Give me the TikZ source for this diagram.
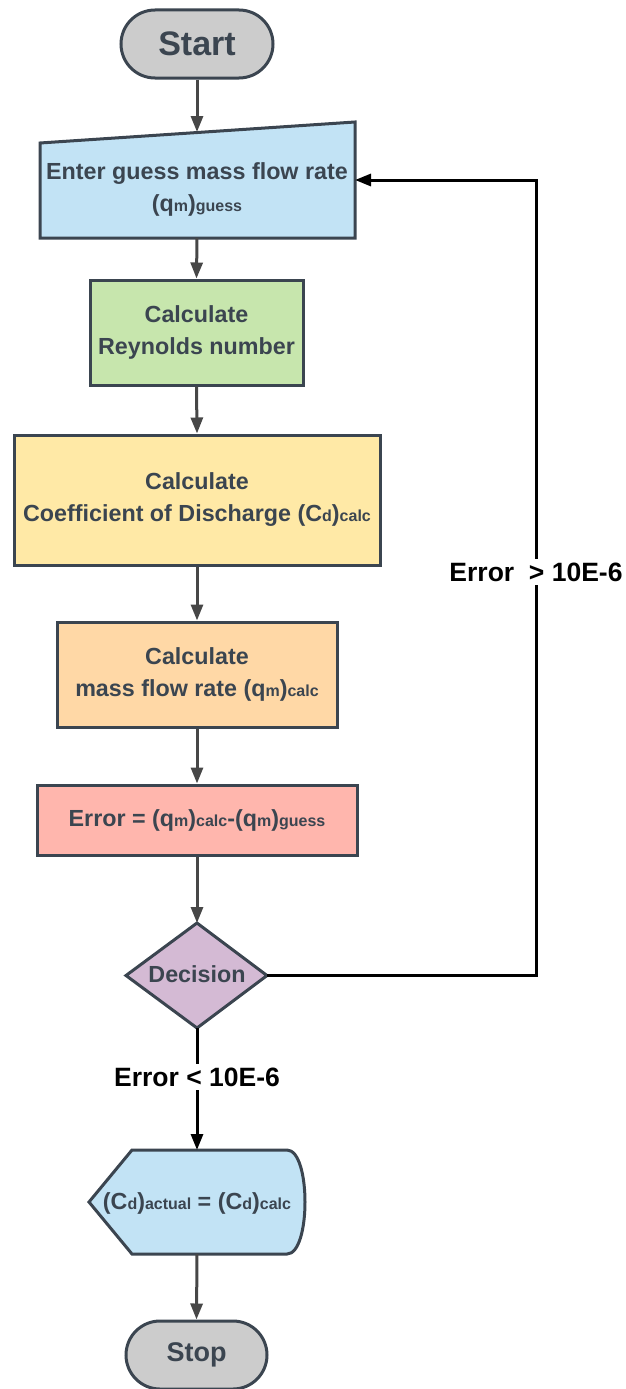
\documentclass[tikz,border=0pt]{standalone}
\usepackage{fontspec}
\setmainfont{Liberation Sans}
\usetikzlibrary{arrows.meta}

\definecolor{ink}{HTML}{3B4550}
\definecolor{arrowgray}{HTML}{474747}
\definecolor{termgray}{HTML}{CCCCCC}
\definecolor{ioblue}{HTML}{C2E3F5}
\definecolor{procgreen}{HTML}{C7E6AD}
\definecolor{procyellow}{HTML}{FFE9A6}
\definecolor{procorange}{HTML}{FFD8A6}
\definecolor{procpink}{HTML}{FFB6AD}
\definecolor{decpurple}{HTML}{D4BAD4}

% small lowered-size part of a symbol (subscripts as set in the chart)
\newcommand{\lo}[1]{{\fontsize{16}{16}\selectfont #1}}

\begin{document}
\begin{tikzpicture}[x=1pt,y=-1pt,
  outline/.style={draw=ink, line width=3pt, line join=miter},
  label text/.style={text=ink, align=center, inner sep=0pt,
    font=\fontsize{23.3}{32}\selectfont\bfseries},
  box/.style={outline, label text, rectangle},
  terminal/.style={box, fill=termgray, rounded corners=34pt, minimum height=68pt},
  tip/.style={-{Triangle[length=16pt,width=12pt]}},
  flow/.style={draw=arrowgray, line width=3pt, tip},
  loopline/.style={draw=black, line width=3pt},
  condition/.style={fill=white, text=black, inner sep=4pt,
    font=\fontsize{26.5}{30}\selectfont\bfseries}
]
\useasboundingbox (0,0) rectangle (626,1389);

% ---- start ----
\node[terminal, minimum width=152pt, font=\fontsize{34}{36}\selectfont\bfseries]
  (start) at (197,44) {Start};

% ---- manual input: guess ----
\draw[outline, fill=ioblue] (40,143) -- (355,122) -- (355,238) -- (40,238) -- cycle;
\node[label text] (guess) at (197,189)
  {Enter guess mass flow rate\\(q\lo{m})\lo{guess}};
\coordinate (guessTop) at (197,132);
\coordinate (guessRight) at (355,180);
\coordinate (guessBottom) at (197,238);

% ---- processing steps ----
\node[box, fill=procgreen, minimum width=213pt, minimum height=105pt]
  (reynolds) at (196.5,332.5) {Calculate\\Reynolds number};
\node[box, fill=procyellow, minimum width=366pt, minimum height=130pt]
  (coeff) at (197,500) {Calculate\\Coefficient of Discharge (C\lo{d})\lo{calc}};
\node[box, fill=procorange, minimum width=280pt, minimum height=105pt]
  (massflow) at (197,674.5) {Calculate\\ mass flow rate (q\lo{m})\lo{calc}};
\node[box, fill=procpink, minimum width=320pt, minimum height=70pt]
  (error) at (197,820) {Error = (q\lo{m})\lo{calc}-(q\lo{m})\lo{guess}};

% ---- decision ----
\draw[outline, fill=decpurple] (197,923) -- (267,975.5) -- (197,1028) -- (126,975.5) -- cycle;
\node[label text] (decision) at (197,974) {Decision};
\coordinate (decTop) at (197,923);
\coordinate (decRight) at (267,975.5);
\coordinate (decBottom) at (197,1028);

% ---- display result ----
\draw[outline, fill=ioblue] (89,1202) -- (132,1150) -- (287,1150)
  .. controls (311,1150) and (311,1254) .. (287,1254) -- (132,1254) -- cycle;
\node[label text] (result) at (197,1203)
  {(C\lo{d})\lo{actual} = (C\lo{d})\lo{calc}};
\coordinate (resTop) at (197,1150);
\coordinate (resBottom) at (197,1254);

% ---- stop ----
\node[terminal, minimum width=141pt, font=\fontsize{27}{30}\selectfont\bfseries]
  (stop) at (196.5,1355) {Stop};

% ---- main flow ----
\draw[flow] (start.south) -- (guessTop);
\draw[flow] (guessBottom) -- (reynolds.north);
\draw[flow] (reynolds.south) -- (coeff.north);
\draw[flow] (coeff.south) -- (massflow.north);
\draw[flow] (massflow.south) -- (error.north);
\draw[flow] (error.south) -- (decTop);
\draw[flow] (resBottom) -- (stop.north);

% ---- iteration loop ----
\coordinate (loopLow) at (536,975.5);
\coordinate (loopHigh) at (536,180);
\draw[loopline, tip] (decRight) -- (loopLow) -- (loopHigh) -- (guessRight);
\node[condition] (notConverged) at (536,572) {Error\ \ > 10E-6};

% ---- converged ----
\draw[loopline, tip] (decBottom) -- (resTop);
\node[condition] (converged) at (197,1077) {Error < 10E-6};
\end{tikzpicture}
\end{document}
